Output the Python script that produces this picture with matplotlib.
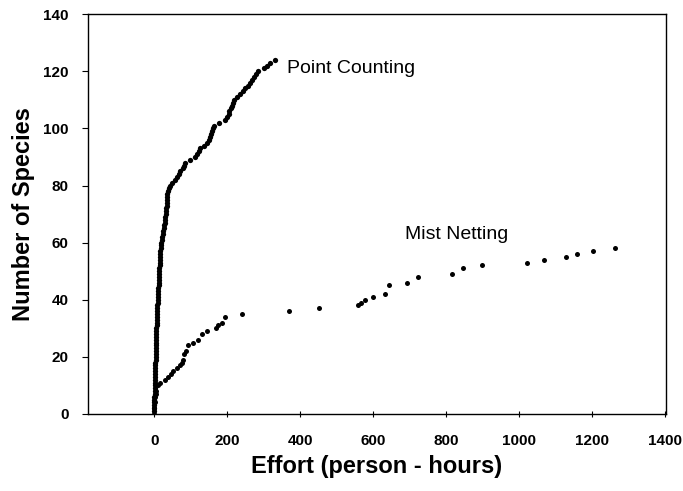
import matplotlib.pyplot as plt

plt.rcParams['font.family'] = ['Liberation Sans', 'DejaVu Sans']

# Point counting: effort (person-hours) at which each new species was added
POINT_X = [0, 0, 0, 0.5, 1, 1, 1.5, 1.5, 2, 2,
           2, 2.5, 2.5, 3, 3, 3, 3.5, 3.5, 4, 4,
           4, 4.5, 4.5, 5, 5, 5, 5.5, 5.5, 6, 6,
           6.5, 7, 7, 7.5, 8, 8.5, 9, 9, 9.5, 10,
           10.5, 11, 11, 11.5, 12, 12.5, 13, 13, 13.5, 14,
           14.5, 15, 15, 15.5, 16, 16.5, 17, 18, 19, 20,
           21, 22, 23, 25, 27, 28, 29, 30, 31, 32,
           33, 33, 34, 34, 35, 35, 36, 38, 40, 44,
           50, 56, 62, 68, 72, 78, 82, 85, 98, 112,
           118, 122, 126, 138, 145, 150, 154, 157, 160, 162,
           163, 178, 194, 200, 204, 206, 210, 213, 215, 218,
           228, 236, 244, 250, 258, 264, 268, 274, 280, 285,
           300, 310, 318, 331]
POINT_Y = list(range(1, len(POINT_X) + 1))

# Mist netting
MIST_X = [0, 1, 2, 3, 4, 6, 10, 16, 30, 38,
          45, 52, 62, 72, 77, 80, 83, 88, 93, 107,
          120, 131, 145, 170, 175, 185, 194, 241, 370, 452,
          559, 567, 578, 600, 633, 644, 693, 723, 816, 846,
          898, 1022, 1068, 1129, 1159, 1203, 1263]
MIST_Y = [0, 2, 4, 6, 7, 8, 10, 11, 12, 13,
          14, 15, 16, 17, 18, 19, 21, 22, 24, 25,
          26, 28, 29, 30, 31, 32, 34, 35, 36, 37,
          38, 39, 40, 41, 42, 45, 46, 48, 49, 51,
          52, 53, 54, 55, 56, 57, 58]

X_TICKS = [0, 200, 400, 600, 800, 1000, 1200, 1400]
Y_TICKS = [0, 20, 40, 60, 80, 100, 120, 140]

fig = plt.figure(figsize=(6.83, 4.91), dpi=100)
ax = fig.add_axes([0.129, 0.157, 0.846, 0.814])

ax.plot(POINT_X, POINT_Y, 'o', color='black', ms=3.8, mec='none')
ax.plot(MIST_X, MIST_Y, 'o', color='black', ms=3.6, mec='none')

ax.text(364, 121, 'Point Counting', fontsize=14, va='center', ha='left')
ax.text(688, 63, 'Mist Netting', fontsize=14, va='center', ha='left')

ax.set_xlim(-181, 1403)
ax.set_ylim(0, 140)
ax.set_xticks(X_TICKS)
ax.set_yticks(Y_TICKS)
ax.tick_params(axis='x', direction='inout', length=5, pad=12, labelsize=11)
ax.tick_params(axis='y', direction='out', length=4, pad=10, labelsize=11)
for lbl in ax.get_xticklabels() + ax.get_yticklabels():
    lbl.set_fontweight('bold')

for s in ax.spines.values():
    s.set_linewidth(1.0)

ax.set_xlabel('Effort (person - hours)', fontsize=17, fontweight='bold', labelpad=5)
ax.set_ylabel('Number of Species', fontsize=17, fontweight='bold', labelpad=6)

fig.savefig('out.png', dpi=100)
